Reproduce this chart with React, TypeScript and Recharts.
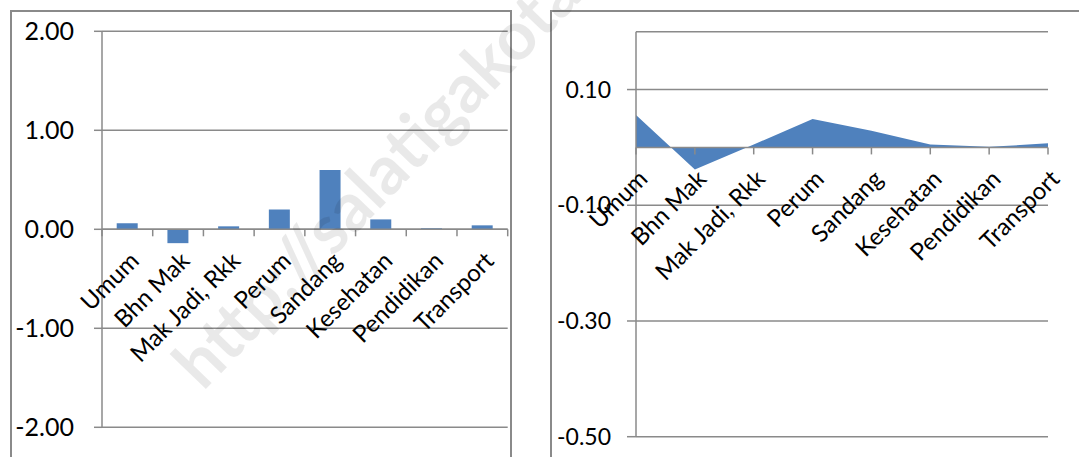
import React from 'react'
import {
  BarChart,
  Bar,
  AreaChart,
  Area,
  XAxis,
  YAxis,
  CartesianGrid,
  ReferenceLine,
} from 'recharts'

// category labels shared by both charts
const categories = ['Umum', 'Bhn Mak', 'Mak Jadi, Rkk', 'Perum', 'Sandang', 'Kesehatan', 'Pendidikan', 'Transport']

// left chart (columns)
const barValues = [0.06, -0.14, 0.03, 0.2, 0.6, 0.1, 0.01, 0.04]
const barTicks = [-2, -1, 0, 1, 2]
const barDomain = [-2, 2]

// right chart (area)
const areaValues = [0.056, -0.038, 0.005, 0.049, 0.029, 0.005, 0.001, 0.007]
const areaTicks = [-0.5, -0.3, -0.1, 0.1]
const areaDomain = [-0.5, 0.2]

const watermark = 'http://salatigakota.go.id'

const FONT = 'Lato, "Open Sans", sans-serif'
const GRID = '#8a8a8a'
const BLUE = '#4F81BD'

const barData = categories.map((name, i) => ({ name, value: barValues[i] }))
const areaData = categories.map((name, i) => ({ name, value: areaValues[i] }))

// plot geometry
const L = { w: 540, h: 457, top: 31.3, bottom: 427.3, left: 102, right: 507.7 }
const R = { w: 539, h: 457, top: 31.7, bottom: 436.7, left: 96, right: 508 }

const zeroY = (g: typeof L, domain: number[]) =>
  g.top + ((domain[1] - 0) / (domain[1] - domain[0])) * (g.bottom - g.top)

const L_ZERO = zeroY(L, barDomain)
const R_ZERO = zeroY(R, areaDomain)
const L_BAND = (L.right - L.left) / categories.length

const fmt = (v: number) => v.toFixed(2)

function CategoryLabel({ x, y0, value }: { x: number; y0: number; value: string }) {
  const ax = x + 13
  const ay = y0 + 33
  return (
    <text
      x={ax}
      y={ay}
      transform={`rotate(-45 ${ax} ${ay})`}
      textAnchor="end"
      fontSize={24}
      fontFamily={FONT}
      fill="#000"
    >
      {value}
    </text>
  )
}

function BarTick(props: any) {
  const { x, payload, index } = props
  const left = x - L_BAND / 2
  return (
    <g>
      <line x1={left} y1={L_ZERO} x2={left} y2={L_ZERO + 7} stroke={GRID} strokeWidth={1.5} />
      {index === categories.length - 1 && (
        <line x1={x + L_BAND / 2} y1={L_ZERO} x2={x + L_BAND / 2} y2={L_ZERO + 7} stroke={GRID} strokeWidth={1.5} />
      )}
      <CategoryLabel x={x} y0={L_ZERO} value={payload.value} />
    </g>
  )
}

function AreaTick(props: any) {
  const { x, payload } = props
  return (
    <g>
      <line x1={x} y1={R_ZERO} x2={x} y2={R_ZERO + 7} stroke={GRID} strokeWidth={1.5} />
      <CategoryLabel x={x} y0={R_ZERO} value={payload.value} />
    </g>
  )
}

export default function App() {
  return (
    <div
      style={{
        position: 'absolute',
        left: 0,
        top: 0,
        width: 1079,
        height: 457,
        overflow: 'hidden',
        background: '#fff',
        fontFamily: FONT,
      }}
    >
      {/* chart frames */}
      <div style={{ position: 'absolute', left: 10, top: 10, width: 502, height: 480, border: `2px solid ${GRID}`, boxSizing: 'border-box' }} />
      <div style={{ position: 'absolute', left: 550, top: 10, width: 600, height: 480, border: `2px solid ${GRID}`, boxSizing: 'border-box' }} />

      <div style={{ position: 'absolute', left: 0, top: 0 }}>
        <BarChart
          width={L.w}
          height={L.h}
          data={barData}
          margin={{ top: L.top, right: L.w - L.right, bottom: L.h - L.bottom - 1, left: 0 }}
          barCategoryGap="29%"
        >
          <CartesianGrid horizontal vertical={false} stroke={GRID} strokeWidth={1.5} />
          <XAxis
            dataKey="name"
            height={1}
            axisLine={false}
            tickLine={false}
            interval={0}
            tick={<BarTick />}
          />
          <YAxis
            width={L.left}
            domain={barDomain}
            ticks={barTicks}
            tickFormatter={fmt}
            stroke={GRID}
            strokeWidth={1.5}
            tickSize={8}
            tickMargin={20}
            tick={{ fill: '#000', fontSize: 25, fontFamily: FONT }}
          />
          <ReferenceLine y={0} stroke={GRID} strokeWidth={1.5} />
          <Bar dataKey="value" fill={BLUE} isAnimationActive={false} />
        </BarChart>
      </div>

      <div style={{ position: 'absolute', left: 540, top: 0 }}>
        <AreaChart
          width={R.w}
          height={R.h}
          data={areaData}
          margin={{ top: R.top, right: R.w - R.right, bottom: R.h - R.bottom - 1, left: 0 }}
        >
          <CartesianGrid horizontal vertical={false} stroke={GRID} strokeWidth={1.5} />
          <XAxis
            dataKey="name"
            height={1}
            axisLine={false}
            tickLine={false}
            interval={0}
            tick={<AreaTick />}
          />
          <YAxis
            width={R.left}
            domain={areaDomain}
            ticks={areaTicks}
            tickFormatter={fmt}
            stroke={GRID}
            strokeWidth={1.5}
            tickSize={9}
            tickMargin={16}
            tick={{ fill: '#000', fontSize: 23, fontFamily: FONT }}
          />
          <Area
            type="linear"
            dataKey="value"
            baseValue={0}
            fill={BLUE}
            fillOpacity={1}
            stroke="none"
            isAnimationActive={false}
          />
          <ReferenceLine y={0} stroke={GRID} strokeWidth={1.5} />
        </AreaChart>
      </div>

      {/* watermark */}
      <svg width={1079} height={457} style={{ position: 'absolute', left: 0, top: 0, pointerEvents: 'none' }}>
        <text
          x={203}
          y={392}
          transform="rotate(-46 203 392)"
          fontSize={68}
          fontWeight={700}
          fontFamily={FONT}
          fill="#000"
          fillOpacity={0.085}
        >
          {watermark}
        </text>
      </svg>
    </div>
  )
}
